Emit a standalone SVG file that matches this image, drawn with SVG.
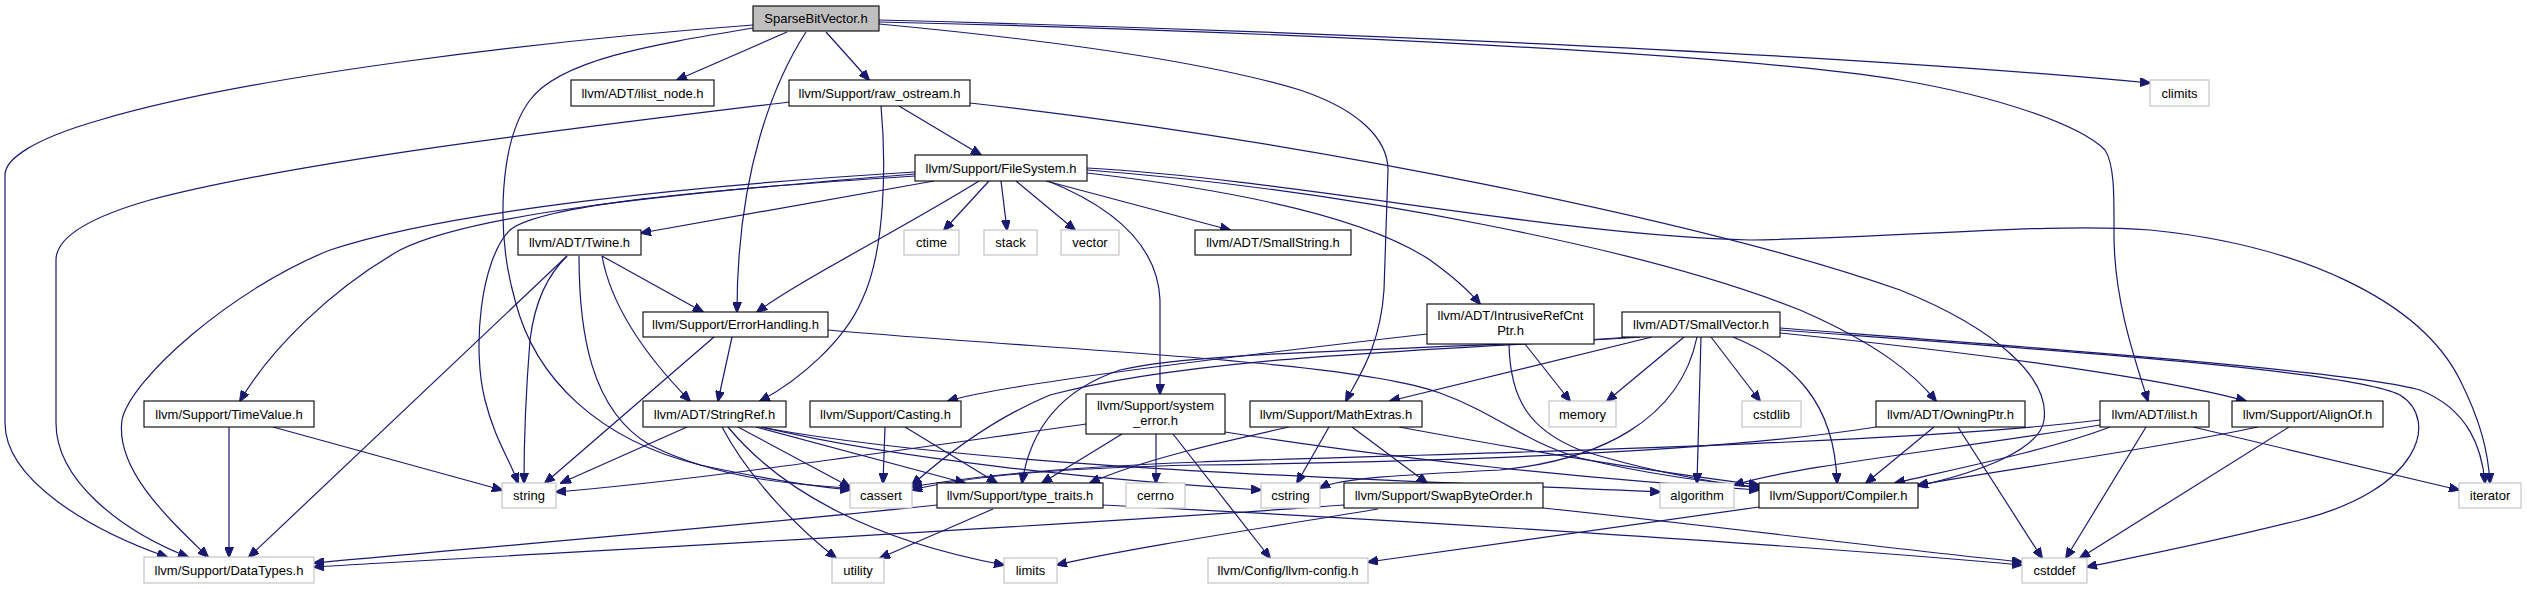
<svg xmlns="http://www.w3.org/2000/svg" width="2527" height="589" viewBox="0 0 2527 589">
<style>
.n rect{fill:#fff;stroke:#000;stroke-width:1.1}
.x rect{fill:#fff;stroke:#bfbfbf;stroke-width:1.1}
.r rect{fill:#bfbfbf;stroke:#000;stroke-width:1.1}
text{font-family:"Liberation Sans",Arial,sans-serif;font-size:13px;fill:#000;text-anchor:middle}
#edges path{fill:none;stroke:#191970;stroke-width:1.2;marker-end:url(#a)}
</style>
<defs>
<marker id="a" markerWidth="11" markerHeight="9" refX="10" refY="4.5" orient="auto" markerUnits="userSpaceOnUse"><path d="M0,0 L11,4.5 L0,9 z" fill="#191970" stroke="#191970" stroke-width="1"/></marker>
</defs>
<rect width="2527" height="589" fill="#fff"/>
<g id="edges">
<path d="M753,25 C550,40 250,75 100,120 C30,140 5,160 5,175 L5,423 C5,480 90,530 167,557"/>
<path d="M787,32 L677,80"/>
<path d="M826,32 L869,80"/>
<path d="M806,32 C775,80 737,170 737,312"/>
<path d="M753,28 C650,45 560,60 530,100 C500,140 495,230 515,300 C535,380 600,440 700,465 C760,478 810,486 850,490"/>
<path d="M879,24 C1050,40 1200,60 1300,90 C1360,110 1388,140 1388,170 L1384,290 C1380,350 1356,380 1346,401"/>
<path d="M879,20 C1200,28 1800,50 2150,83"/>
<path d="M879,22 C1300,32 1750,55 1900,80 C2000,97 2080,125 2105,150 C2115,165 2114,200 2114,235 C2114,300 2135,360 2148,401"/>
<path d="M789,102 C600,125 300,160 150,200 C80,220 56,240 56,260 L56,423 C56,480 120,530 188,557"/>
<path d="M899,106 L981,155"/>
<path d="M881,106 C886,160 886,250 862,300 C845,340 800,380 760,401"/>
<path d="M970,103 C1300,140 1700,220 1900,290 C2000,330 2050,380 2044,420 C2040,450 1980,472 1918,486"/>
<path d="M915,172 C700,185 450,210 330,250 C230,290 130,380 122,420 C115,470 170,520 208,557"/>
<path d="M915,174 C650,195 470,215 400,250 C330,290 270,350 240,401"/>
<path d="M915,176 C700,190 540,205 510,230 C480,260 472,350 485,400 C495,440 510,460 518,483"/>
<path d="M934,181 L641,233"/>
<path d="M979,181 C900,230 800,280 757,312"/>
<path d="M989,181 L944,230"/>
<path d="M1001,181 L1007,230"/>
<path d="M1016,181 L1075,230"/>
<path d="M1046,181 L1230,230"/>
<path d="M1048,181 C1120,210 1158,250 1160,300 L1160,394"/>
<path d="M1087,173 C1250,192 1370,220 1430,260 C1455,278 1470,292 1480,304"/>
<path d="M1087,170 C1350,190 1650,250 1800,310 C1880,345 1915,375 1936,401"/>
<path d="M1087,168 C1300,180 1550,235 1750,240 C1900,238 2050,222 2150,230 C2300,245 2420,300 2460,380 C2480,420 2488,450 2490,483"/>
<path d="M567,256 L249,557"/>
<path d="M567,256 C548,275 535,300 530,340 C526,390 524,440 524,483"/>
<path d="M579,256 C579,330 590,410 650,445 C720,480 800,485 850,488"/>
<path d="M602,256 C610,300 640,350 690,401"/>
<path d="M602,256 L703,312"/>
<path d="M732,337 L718,401"/>
<path d="M714,337 L545,483"/>
<path d="M828,330 C1050,350 1350,360 1440,393 C1500,415 1520,440 1580,458 C1650,475 1710,482 1759,487"/>
<path d="M687,427 L561,483"/>
<path d="M722,427 C750,480 800,530 836,558"/>
<path d="M728,427 C780,490 870,540 1004,565"/>
<path d="M738,427 L850,487"/>
<path d="M756,427 L965,483"/>
<path d="M761,427 C900,460 1100,480 1261,490"/>
<path d="M765,428 C1000,470 1400,480 1660,492"/>
<path d="M885,427 L883,483"/>
<path d="M905,427 L997,483"/>
<path d="M1086,424 C900,450 700,480 556,492"/>
<path d="M1122,434 L1042,483"/>
<path d="M1156,434 L1156,483"/>
<path d="M1173,434 L1270,558"/>
<path d="M1225,432 C1400,460 1600,480 1759,490"/>
<path d="M1427,334 C1200,360 1000,385 948,401"/>
<path d="M1525,344 L1570,401"/>
<path d="M1509,344 C1510,400 1530,430 1580,450 C1650,472 1710,482 1759,488"/>
<path d="M1652,337 L1390,401"/>
<path d="M1640,337 C1450,350 1200,355 1050,395 C990,420 940,460 912,485"/>
<path d="M1630,337 C1450,350 1200,350 1120,370 C1060,390 1030,430 1022,483"/>
<path d="M1684,337 L1607,401"/>
<path d="M1701,337 L1697,483"/>
<path d="M1697,337 C1680,420 1600,460 1500,470 C1400,475 1340,478 1320,488"/>
<path d="M1711,337 L1760,401"/>
<path d="M1733,337 C1790,360 1835,400 1837,483"/>
<path d="M1780,333 C1950,350 2150,375 2246,401"/>
<path d="M1780,328 C2000,345 2350,370 2420,390 C2470,410 2482,450 2485,483"/>
<path d="M1780,330 C2050,350 2350,370 2400,395 C2440,420 2420,490 2300,520 C2200,545 2130,558 2087,567"/>
<path d="M1289,427 C1230,440 1140,460 1090,483"/>
<path d="M1329,427 L1297,483"/>
<path d="M1352,427 L1427,483"/>
<path d="M1399,427 C1550,455 1680,475 1759,485"/>
<path d="M1876,427 C1700,455 1400,462 1200,465 C1050,468 960,478 912,490"/>
<path d="M1934,427 L1866,483"/>
<path d="M1958,427 L2042,558"/>
<path d="M2110,427 C2050,450 1950,470 1895,483"/>
<path d="M2100,420 C1900,445 1400,455 1200,462 C1050,468 960,478 912,487"/>
<path d="M2100,425 C1950,450 1800,465 1734,485"/>
<path d="M2146,427 L2066,558"/>
<path d="M2193,427 L2459,490"/>
<path d="M2258,427 C2150,450 2000,470 1918,485"/>
<path d="M2289,427 L2080,558"/>
<path d="M937,505 C700,530 450,550 314,563"/>
<path d="M993,509 L880,558"/>
<path d="M1103,505 C1400,520 1800,545 2022,565"/>
<path d="M1344,505 C1000,530 600,550 314,567"/>
<path d="M1378,509 C1250,530 1120,550 1057,565"/>
<path d="M1543,508 C1750,530 1900,550 2022,562"/>
<path d="M1759,507 C1600,530 1450,550 1368,562"/>
<path d="M229,427 L229,557"/>
<path d="M273,427 L502,490"/>
</g>
<g id="n1" class="r"><rect x="753" y="6" width="126" height="25"/><text x="816" y="23">SparseBitVector.h</text></g>
<g id="n2" class="n"><rect x="571" y="80" width="143" height="26"/><text x="642.5" y="97.5">llvm/ADT/ilist_node.h</text></g>
<g id="n3" class="n"><rect x="789" y="80" width="181" height="26"/><text x="879.5" y="97.5">llvm/Support/raw_ostream.h</text></g>
<g id="n4" class="x"><rect x="2150" y="80" width="59" height="26"/><text x="2179.5" y="97.5">climits</text></g>
<g id="n5" class="n"><rect x="915" y="155" width="172" height="26"/><text x="1001" y="172.5">llvm/Support/FileSystem.h</text></g>
<g id="n6" class="n"><rect x="518" y="230" width="123" height="25"/><text x="579.5" y="247">llvm/ADT/Twine.h</text></g>
<g id="n7" class="x"><rect x="904" y="230" width="55" height="25"/><text x="931.5" y="247">ctime</text></g>
<g id="n8" class="x"><rect x="984" y="230" width="53" height="25"/><text x="1010.5" y="247">stack</text></g>
<g id="n9" class="x"><rect x="1061" y="230" width="58" height="25"/><text x="1090" y="247">vector</text></g>
<g id="n10" class="n"><rect x="1195" y="230" width="156" height="25"/><text x="1273" y="247">llvm/ADT/SmallString.h</text></g>
<g id="n11" class="n"><rect x="643" y="312" width="185" height="25"/><text x="735.5" y="329">llvm/Support/ErrorHandling.h</text></g>
<g id="n12" class="n"><rect x="1427" y="304" width="167" height="40"/><text x="1510.5" y="320">llvm/ADT/IntrusiveRefCnt</text><text x="1510.5" y="335">Ptr.h</text></g>
<g id="n13" class="n"><rect x="1622" y="312" width="158" height="25"/><text x="1701" y="329">llvm/ADT/SmallVector.h</text></g>
<g id="n14" class="n"><rect x="144" y="401" width="170" height="26"/><text x="229" y="418.5">llvm/Support/TimeValue.h</text></g>
<g id="n15" class="n"><rect x="643" y="401" width="143" height="26"/><text x="714.5" y="418.5">llvm/ADT/StringRef.h</text></g>
<g id="n16" class="n"><rect x="810" y="401" width="151" height="26"/><text x="885.5" y="418.5">llvm/Support/Casting.h</text></g>
<g id="n17" class="n"><rect x="1086" y="394" width="139" height="40"/><text x="1155.5" y="410">llvm/Support/system</text><text x="1155.5" y="425">_error.h</text></g>
<g id="n18" class="n"><rect x="1250" y="401" width="172" height="26"/><text x="1336" y="418.5">llvm/Support/MathExtras.h</text></g>
<g id="n19" class="x"><rect x="1549" y="401" width="67" height="26"/><text x="1582.5" y="418.5">memory</text></g>
<g id="n20" class="x"><rect x="1742" y="401" width="59" height="26"/><text x="1771.5" y="418.5">cstdlib</text></g>
<g id="n21" class="n"><rect x="1876" y="401" width="149" height="26"/><text x="1950.5" y="418.5">llvm/ADT/OwningPtr.h</text></g>
<g id="n22" class="n"><rect x="2100" y="401" width="109" height="26"/><text x="2154.5" y="418.5">llvm/ADT/ilist.h</text></g>
<g id="n23" class="n"><rect x="2232" y="401" width="151" height="26"/><text x="2307.5" y="418.5">llvm/Support/AlignOf.h</text></g>
<g id="n24" class="x"><rect x="502" y="483" width="54" height="25"/><text x="529" y="500">string</text></g>
<g id="n25" class="x"><rect x="850" y="483" width="62" height="25"/><text x="881" y="500">cassert</text></g>
<g id="n26" class="n"><rect x="937" y="483" width="166" height="25"/><text x="1020" y="500">llvm/Support/type_traits.h</text></g>
<g id="n27" class="x"><rect x="1126" y="483" width="59" height="25"/><text x="1155.5" y="500">cerrno</text></g>
<g id="n28" class="x"><rect x="1261" y="483" width="59" height="25"/><text x="1290.5" y="500">cstring</text></g>
<g id="n29" class="n"><rect x="1344" y="483" width="199" height="25"/><text x="1443.5" y="500">llvm/Support/SwapByteOrder.h</text></g>
<g id="n30" class="x"><rect x="1660" y="483" width="74" height="25"/><text x="1697" y="500">algorithm</text></g>
<g id="n31" class="n"><rect x="1759" y="483" width="159" height="25"/><text x="1838.5" y="500">llvm/Support/Compiler.h</text></g>
<g id="n32" class="x"><rect x="2459" y="483" width="62" height="25"/><text x="2490" y="500">iterator</text></g>
<g id="n33" class="x"><rect x="144" y="557" width="170" height="26"/><text x="229" y="574.5">llvm/Support/DataTypes.h</text></g>
<g id="n34" class="x"><rect x="832" y="558" width="52" height="25"/><text x="858" y="575">utility</text></g>
<g id="n35" class="x"><rect x="1004" y="558" width="53" height="25"/><text x="1030.5" y="575">limits</text></g>
<g id="n36" class="x"><rect x="1208" y="558" width="160" height="25"/><text x="1288" y="575">llvm/Config/llvm-config.h</text></g>
<g id="n37" class="x"><rect x="2022" y="558" width="65" height="25"/><text x="2054.5" y="575">cstddef</text></g>
</svg>
